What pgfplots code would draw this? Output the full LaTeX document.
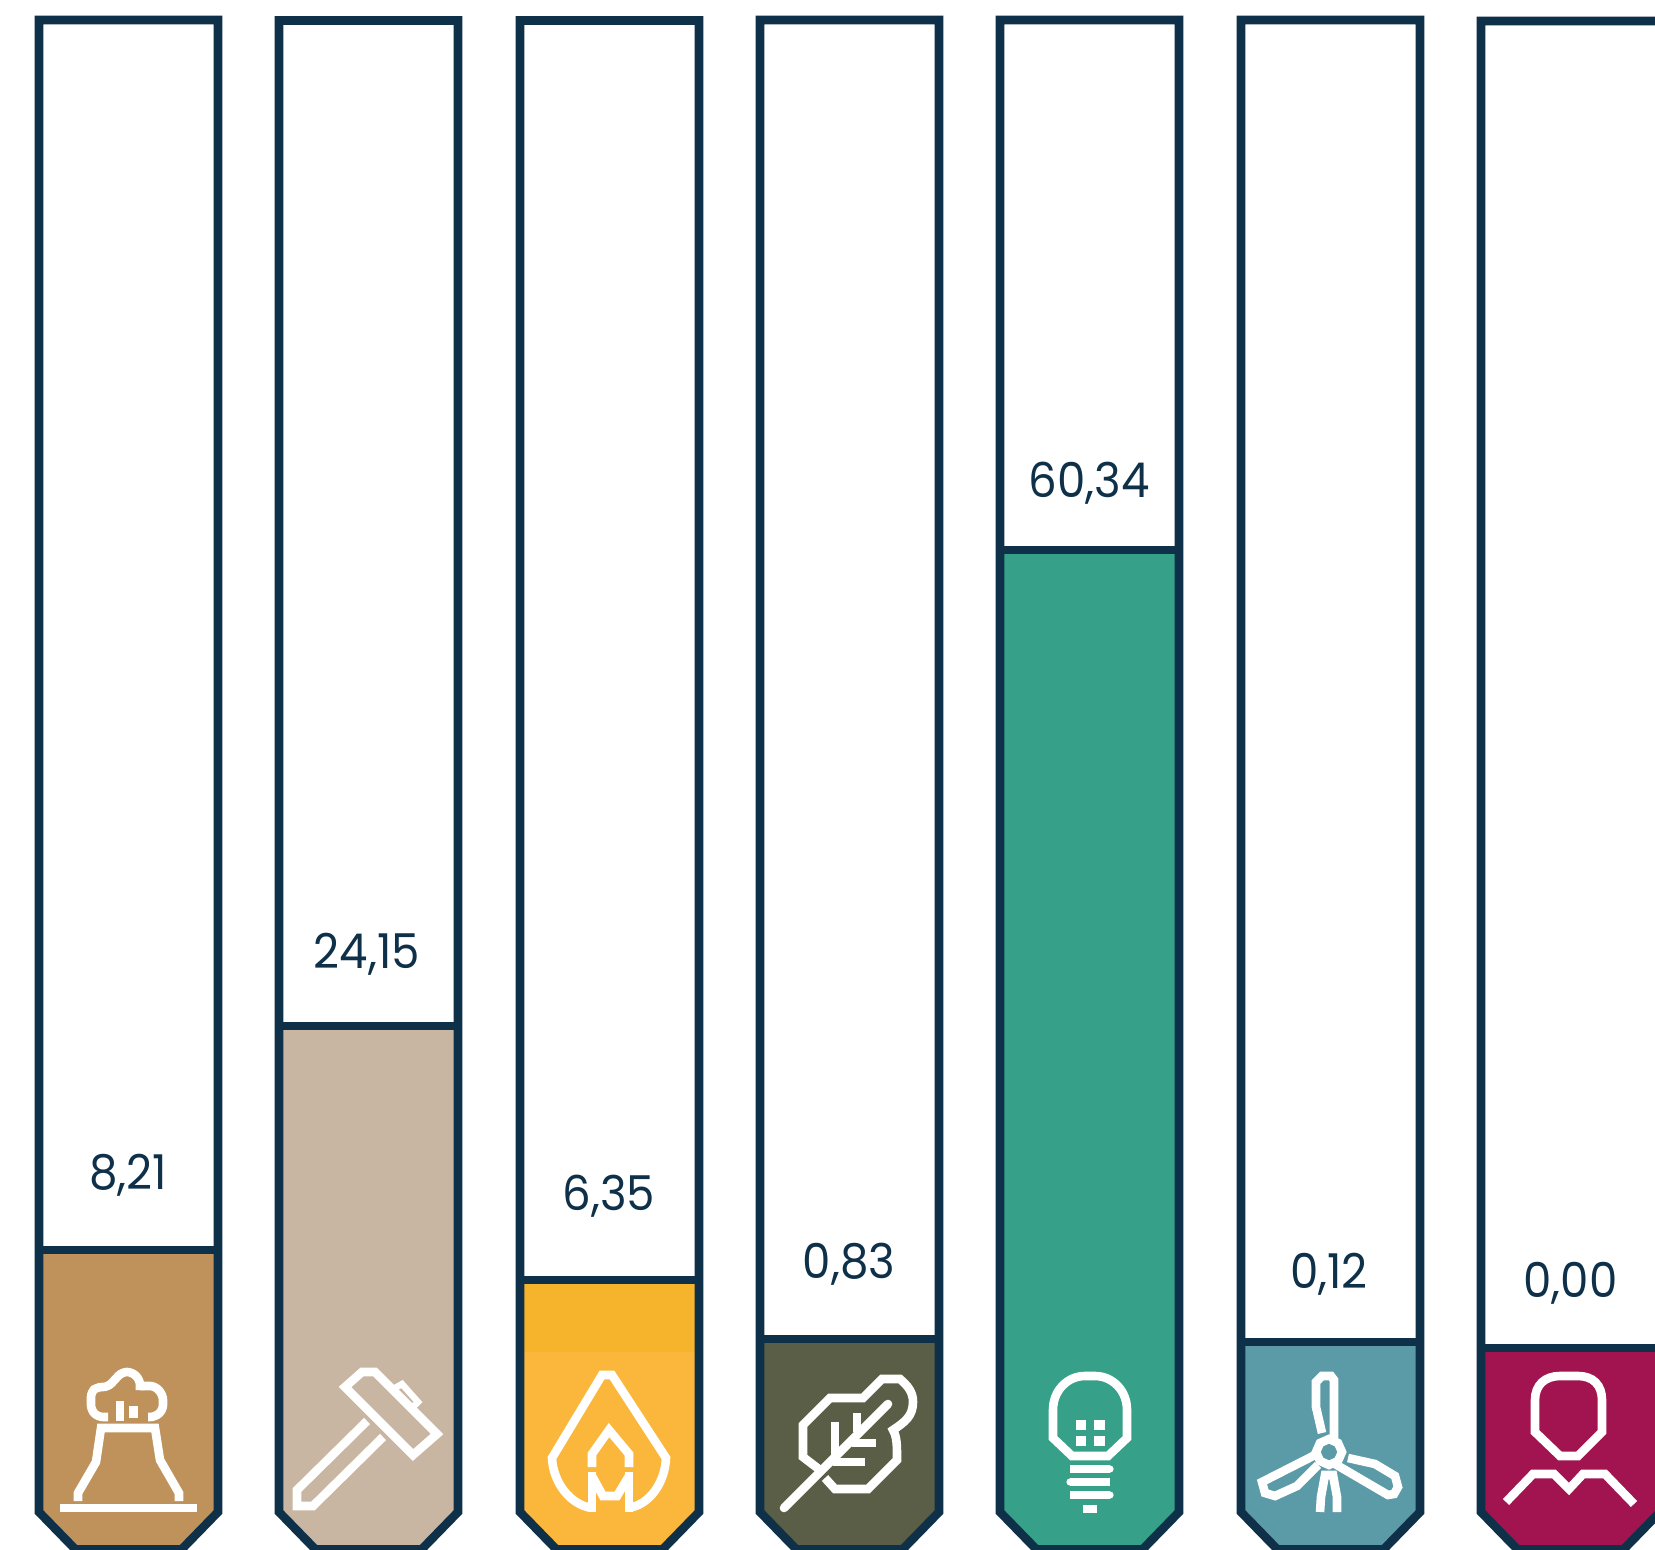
\documentclass[border=0pt]{standalone}
\usepackage{fontspec}
\setmainfont{Poppins}
\newfontfamily\valfont[FakeStretch=0.94]{Poppins}
\usepackage{pgfplots}
\pgfplotsset{compat=1.18}
\definecolor{ink}{HTML}{0E3049}
\definecolor{cA}{HTML}{BE925A}
\definecolor{cB}{HTML}{C8B6A3}
\definecolor{cC}{HTML}{FBB73C}
\definecolor{cCtop}{HTML}{F6B42D}
\definecolor{cD}{HTML}{5B5E46}
\definecolor{cE}{HTML}{36A088}
\definecolor{cF}{HTML}{5B9AA7}
\definecolor{cG}{HTML}{A2144F}
\tikzset{
  val/.style={anchor=base, text=ink, font=\valfont\fontsize{24}{24}\selectfont, inner sep=0pt},
  icon/.style={draw=white, line width=4.3pt, line join=miter, line cap=butt},
}
\pgfplotsset{
  tube/.style={draw=ink, line width=4.3pt, line join=miter, no markers},
  level/.style={draw=ink, line width=4.2pt, no markers},
  bar/.style={fill=#1, draw=none, no markers},
}
\begin{document}
\begin{tikzpicture}
\begin{axis}[
  scale only axis, width=827.5pt, height=775pt,
  xmin=0, xmax=1655, ymin=0, ymax=1550, y dir=reverse,
  hide axis, clip=true,
]
\path (0,0) rectangle (1655,1550);
% --- filled levels
\addplot[bar=cA] coordinates {(39,1250)(39,1512)(75.5,1549.5)(181.5,1549.5)(218,1512)(218,1250)} --cycle;
\addplot[bar=cB] coordinates {(279,1026)(279,1512)(315.5,1549.5)(421.5,1549.5)(458,1512)(458,1026)} --cycle;
\addplot[bar=cC] coordinates {(520,1280)(520,1512)(556.5,1549.5)(662.5,1549.5)(699,1512)(699,1280)} --cycle;
\addplot[bar=cCtop] coordinates {(520,1280)(520,1352)(699,1352)(699,1280)} --cycle;
\addplot[bar=cD] coordinates {(760,1339)(760,1512)(796.5,1549.5)(902.5,1549.5)(939,1512)(939,1339)} --cycle;
\addplot[bar=cE] coordinates {(1000,550)(1000,1512)(1036.5,1549.5)(1142.5,1549.5)(1179,1512)(1179,550)} --cycle;
\addplot[bar=cF] coordinates {(1241,1342)(1241,1512)(1277.5,1549.5)(1383.5,1549.5)(1420,1512)(1420,1342)} --cycle;
\addplot[bar=cG] coordinates {(1481,1348)(1481,1512)(1517.5,1549.5)(1623.5,1549.5)(1660,1512)(1660,1348)} --cycle;
% --- level lines
\addplot[level] coordinates {(39,1250)(218,1250)};
\addplot[level] coordinates {(279,1026)(458,1026)};
\addplot[level] coordinates {(520,1280)(699,1280)};
\addplot[level] coordinates {(760,1339)(939,1339)};
\addplot[level] coordinates {(1000,550)(1179,550)};
\addplot[level] coordinates {(1241,1342)(1420,1342)};
\addplot[level] coordinates {(1481,1348)(1660,1348)};
% --- tube outlines
\addplot[tube] coordinates {(39,20)(39,1512)(75.5,1549.5)(181.5,1549.5)(218,1512)(218,20)} --cycle;
\addplot[tube] coordinates {(279,20.5)(279,1512)(315.5,1549.5)(421.5,1549.5)(458,1512)(458,20.5)} --cycle;
\addplot[tube] coordinates {(520,20.5)(520,1512)(556.5,1549.5)(662.5,1549.5)(699,1512)(699,20.5)} --cycle;
\addplot[tube] coordinates {(760,20)(760,1512)(796.5,1549.5)(902.5,1549.5)(939,1512)(939,20)} --cycle;
\addplot[tube] coordinates {(1000,20)(1000,1512)(1036.5,1549.5)(1142.5,1549.5)(1179,1512)(1179,20)} --cycle;
\addplot[tube] coordinates {(1241,20)(1241,1512)(1277.5,1549.5)(1383.5,1549.5)(1420,1512)(1420,20)} --cycle;
\addplot[tube] coordinates {(1481,21)(1481,1512)(1517.5,1549.5)(1623.5,1549.5)(1660,1512)(1660,21)} --cycle;
% --- values
\node[val] at (128,1189) {8,21};
\node[val] at (367,968.5) {24,15};
\node[val] at (609,1210.5) {6,35};
\node[val] at (849,1278.5) {0,83};
\node[val] at (1089,498) {60,34};
\node[val] at (1329,1288.5) {0,12};
\node[val] at (1570.5,1297) {0,00};
% --- icon 1: volcano
\draw[icon] (60,1508) -- (197,1508);
\draw[icon] (78,1501) -- (78,1493) -- (96,1462) -- (101,1428) -- (155,1428) -- (160,1460) -- (179,1493) -- (179,1501);
\draw[icon,rounded corners=2.5pt] (108,1417) -- (98,1417) -- (91,1410) -- (91,1392) -- (97,1387) -- (108,1387) -- (122,1372) -- (132,1372) -- (140,1380) -- (140,1390);
\draw[icon,rounded corners=2.5pt] (140,1386) -- (155,1386) -- (163,1395) -- (163,1410) -- (155,1417) -- (148,1417);
\fill[white] (116,1421) rectangle (124,1401);
\fill[white] (129,1418) rectangle (138,1406);
% --- icon 2: hammer
\draw[icon] (345,1387) -- (362,1372) -- (375,1372) -- (437,1434) -- (413,1455) -- cycle;
\draw[icon,line width=3.2pt] (395,1388) -- (402,1384) -- (418,1402) -- (413,1407);
\draw[icon] (367,1421) -- (297,1490) -- (297,1506) -- (313,1506) -- (383,1437);
% --- icon 3: flame
\draw[icon] (592,1508) .. controls (570,1505) and (553,1482) .. (552,1458) -- (602,1375) -- (612,1375) -- (666,1458) .. controls (665,1482) and (650,1505) .. (628,1508);
\draw[icon] (592,1467) -- (592,1454) -- (609,1430) -- (629,1454) -- (629,1467);
\draw[icon] (592,1472) -- (592,1512);
\draw[icon] (629,1472) -- (629,1512);
\draw[icon] (592,1476) -- (603,1496) -- (617,1496) -- (629,1476);
% --- icon 4: leaf
\draw[icon] (820,1470) -- (803,1457) -- (803,1425) -- (830,1398) -- (863,1398) -- (882,1379) -- (900,1379) .. controls (908,1386) and (913,1392) .. (913,1402) .. controls (913,1416) and (905,1422) .. (893,1430) .. controls (897,1437) and (897,1445) .. (897,1460) -- (868,1489) -- (835,1489) -- (825,1478);
\draw[icon,line cap=round] (784,1508) -- (888,1404);
\draw[icon] (835,1422) -- (835,1460);
\draw[icon] (833,1462) -- (865,1462);
\draw[icon] (852,1443) -- (876,1443);
\draw[icon] (857,1413) -- (857,1432);
% --- icon 5: bulb
\draw[icon] (1053,1438) -- (1053,1410) .. controls (1053,1390) and (1068,1376) .. (1085,1376) -- (1095,1376) .. controls (1112,1376) and (1127,1390) .. (1127,1410) -- (1127,1438) -- (1108,1456) -- (1072,1456) -- cycle;
\fill[white] (1076,1420) rectangle (1086,1430);
\fill[white] (1094,1420) rectangle (1105,1430);
\fill[white] (1076,1436) rectangle (1086,1446);
\fill[white] (1094,1436) rectangle (1105,1446);
\draw[icon] (1070,1469) -- (1110,1469);
\draw[icon] (1070,1482) -- (1110,1482);
\draw[icon] (1070,1495) -- (1110,1495);
\fill[white] (1110,1469) circle[radius=3.6];
\fill[white] (1070,1482) circle[radius=3.6];
\fill[white] (1110,1495) circle[radius=3.6];
\fill[white] (1083,1505) rectangle (1097,1513);
% --- icon 6: turbine
\draw[icon] (1329,1439) -- (1338,1443) -- (1342,1452) -- (1338,1461) -- (1329,1465) -- (1320,1461) -- (1316,1452) -- (1320,1443) -- cycle;
\draw[icon] (1322,1433) -- (1316,1407) -- (1316,1382) -- (1322,1376) -- (1331,1376) -- (1334,1380) -- (1334,1440);
\draw[icon] (1348,1458) -- (1375,1464) -- (1395,1476) -- (1398,1487) -- (1394,1494) -- (1388,1495) -- (1335,1464);
\draw[icon] (1315,1455) -- (1262,1482) -- (1265,1493) -- (1275,1496) -- (1297,1486) -- (1318,1465);
\draw[icon] (1320,1512) -- (1321,1497) -- (1325,1475) -- (1333,1475) -- (1337,1497) -- (1337,1512);
% --- icon 7: person
\draw[icon] (1535,1432) -- (1535,1400) .. controls (1535,1385) and (1545,1376) .. (1560,1376) -- (1578,1376) .. controls (1593,1376) and (1602,1385) .. (1602,1400) -- (1602,1432) -- (1578,1456) -- (1560,1456) -- cycle;
\draw[icon] (1506,1502) -- (1533,1474) -- (1554,1474) -- (1569,1489) -- (1583,1474) -- (1605,1474) -- (1634,1504);
\end{axis}
\end{tikzpicture}
\end{document}
